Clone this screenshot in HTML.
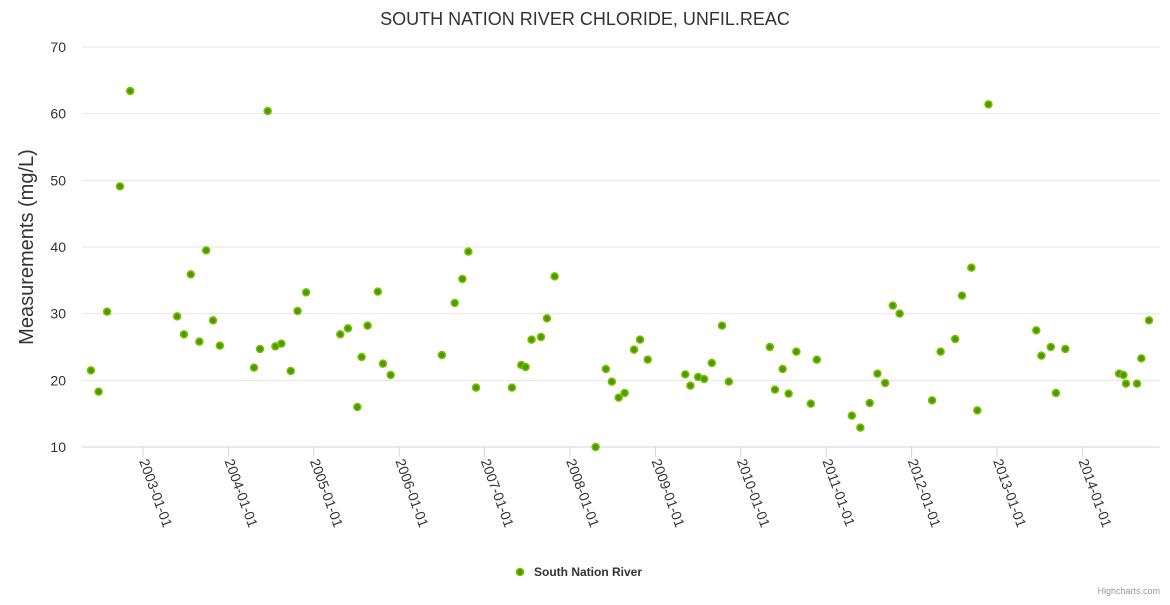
<!DOCTYPE html>
<html><head><meta charset="utf-8"><style>
body{margin:0;background:#fff;font-family:"Liberation Sans","DejaVu Sans",sans-serif}
svg text{font-family:"Liberation Sans","DejaVu Sans",sans-serif}
</style></head><body>
<svg id="chart" width="1170" height="600" xmlns="http://www.w3.org/2000/svg">
<rect width="1170" height="600" fill="#fff"/>
<text x="585" y="25" text-anchor="middle" font-size="18" fill="#333">SOUTH NATION RIVER CHLORIDE, UNFIL.REAC</text>
<text transform="translate(33,247) rotate(-90)" text-anchor="middle" font-size="20" fill="#333">Measurements (mg/L)</text>
<g id="grid"></g><g id="xaxis"></g><g id="pts"></g>
<g>
<circle cx="520" cy="572" r="3.5" fill="#4a9a00" stroke="#7cc000" stroke-width="1.5"/>
<text x="534" y="576" font-size="12" font-weight="bold" fill="#333">South Nation River</text>
</g>
<text x="1160" y="594" text-anchor="end" font-size="9" fill="#999">Highcharts.com</text>
</svg>
<script>
const years=[2002.39,2002.48,2002.58,2002.73,2002.85,2003.40,2003.48,2003.56,2003.66,2003.74,2003.82,2003.90,2004.30,2004.37,2004.46,2004.55,2004.62,2004.73,2004.81,2004.91,2005.31,2005.40,2005.51,2005.56,2005.63,2005.75,2005.81,2005.90,2006.50,2006.65,2006.74,2006.81,2006.90,2007.32,2007.43,2007.48,2007.55,2007.66,2007.73,2007.82,2008.30,2008.42,2008.49,2008.57,2008.64,2008.75,2008.82,2008.91,2009.35,2009.41,2009.50,2009.57,2009.66,2009.78,2009.86,2010.34,2010.40,2010.49,2010.56,2010.65,2010.82,2010.89,2011.30,2011.40,2011.51,2011.60,2011.69,2011.78,2011.86,2012.24,2012.34,2012.51,2012.59,2012.70,2012.77,2012.90,2013.46,2013.52,2013.63,2013.69,2013.80,2014.43,2014.48,2014.51,2014.64,2014.69,2014.78];
const values=[21.5,18.3,30.3,49.1,63.4,29.6,26.9,35.9,25.8,39.5,29,25.2,21.9,24.7,60.4,25.1,25.5,21.4,30.4,33.2,26.9,27.8,16,23.5,28.2,33.3,22.5,20.8,23.8,31.6,35.2,39.3,18.9,18.9,22.3,22,26.1,26.5,29.3,35.6,10,21.7,19.8,17.4,18.1,24.6,26.1,23.1,20.9,19.2,20.5,20.2,22.6,28.2,19.8,25,18.6,21.7,18,24.3,16.5,23.1,14.7,12.9,16.6,21,19.6,31.2,30,17,24.3,26.2,32.7,36.9,15.5,61.4,27.5,23.7,25,18.1,24.7,21,20.8,19.5,19.5,23.3,29];
const yTicks=[10,20,30,40,50,60,70];
const xTickYears=[2003,2004,2005,2006,2007,2008,2009,2010,2011,2012,2013,2014];
const NS="http://www.w3.org/2000/svg";
const L=82,R=1160,T=47,B=447;
const x=v=>143+(v-2003)*85.4;
const y=v=>B-(v-10)*(B-T)/60;
function mk(tag,at,parent){const e=document.createElementNS(NS,tag);for(const k in at)e.setAttribute(k,at[k]);parent.appendChild(e);return e;}
const g=document.getElementById('grid'),xa=document.getElementById('xaxis'),p=document.getElementById('pts');
yTicks.forEach(t=>{
 const ln=mk('line',{x1:L,x2:R,y1:y(t),y2:y(t),stroke:t===10?'#ccd6eb':'#e6e6e6','stroke-width':1},g);
 
 
 const tx=mk('text',{x:66,y:y(t)+5,'text-anchor':'end','font-size':14,fill:'#333'},g);
 tx.textContent=t;
 
 
});
xTickYears.forEach(yr=>{
 const X=x(yr);
 const tk=mk('line',{x1:X,x2:X,y1:B,y2:B+10,stroke:'#ccd6eb'},xa);
 
 
 const tx=mk('text',{transform:`translate(${X-4},${B+14}) rotate(70)`,'font-size':14,fill:'#333'},xa);
 tx.textContent=yr+'-01-01';
 
 
});
years.forEach((yr,i)=>{
 const c=mk('circle',{cx:x(yr),cy:y(values[i]),r:3.5,fill:'#4a9a00',stroke:'#7cc000','stroke-width':1.5},p);
 
 
});
</script>
</body></html>
